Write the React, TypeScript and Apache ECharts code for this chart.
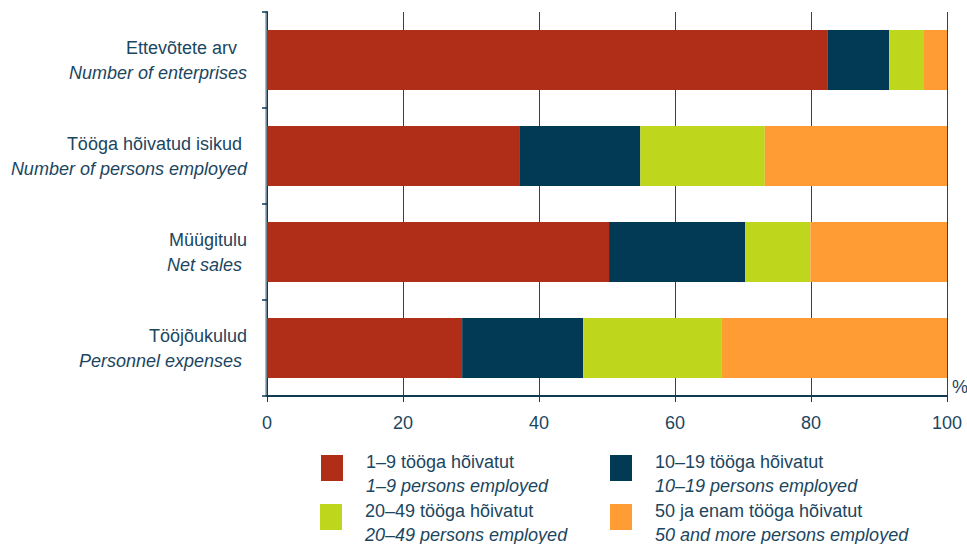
import React, { useEffect, useRef } from "react";
import * as echarts from "echarts";

const categories = [
  ["Ettevõtete arv  ", "Number of enterprises"],
  ["Tööga hõivatud isikud ", "Number of persons employed"],
  ["Müügitulu", "Net sales "],
  ["Tööjõukulud", "Personnel expenses "],
];
const seriesNames = [
  ["1–9 tööga hõivatut", "1–9 persons employed"],
  ["10–19 tööga hõivatut", "10–19 persons employed"],
  ["20–49 tööga hõivatut", "20–49 persons employed"],
  ["50 ja enam tööga hõivatut", "50 and more persons employed"],
];
const s1to9 = [82.4, 37.2, 50.3, 28.7];
const s10to19 = [9.1, 17.7, 20.0, 17.8];
const s20to49 = [5.0, 18.3, 9.6, 20.4];
const s50plus = [3.5, 26.8, 20.1, 33.1];
const colors = ["#B02E17", "#023A55", "#BED71C", "#FF9C33"];
const xTicks = [0, 20, 40, 60, 80, 100];

const TXT = "#1B4660";
const FONT = "'Liberation Sans', Arial, sans-serif";

export default function App() {
  const ref = useRef<HTMLDivElement>(null);
  useEffect(() => {
    if (!ref.current) return;
    const chart = echarts.init(ref.current, null, { renderer: "svg" });
    const catKeys = categories.map((c) => c[0]);
    const values = [s1to9, s10to19, s20to49, s50plus];
    const legendPos = [
      { left: 321, top: 453 },
      { left: 610, top: 453 },
      { left: 320, top: 502 },
      { left: 610, top: 502 },
    ];
    const option: any = {
      animation: false,
      textStyle: { fontFamily: FONT },
      grid: {
        left: 267,
        right: 20,
        top: 12,
        bottom: 148,
        containLabel: false,
        outerBoundsMode: "none",
      },
      xAxis: {
        type: "value",
        min: xTicks[0],
        max: xTicks[xTicks.length - 1],
        interval: 20,
        name: "%",
        nameLocation: "end",
        nameGap: 5,
        nameTextStyle: { color: TXT, fontSize: 18, verticalAlign: "bottom", fontFamily: FONT },
        axisLine: { show: true, lineStyle: { color: "#0F3A52", width: 2 } },
        axisTick: { show: true, length: 6, lineStyle: { color: "#0F3A52", width: 1 } },
        axisLabel: { color: TXT, fontSize: 18, margin: 18, fontFamily: FONT },
        splitLine: { show: true, lineStyle: { color: "#1C4A63", width: 1 } },
      },
      yAxis: [
        {
          type: "category",
          data: catKeys,
          inverse: true,
          offset: 8,
          axisLine: { show: true, lineStyle: { color: "#0F3A52", width: 2 } },
          axisTick: { show: true, length: 5, lineStyle: { color: "#0F3A52", width: 1.5 } },
          axisLabel: {
            margin: 12,
            align: "right",
            formatter: (v: string) => {
              const c = categories.find((cc) => cc[0] === v)!;
              return `{a|${c[0]}}\n{b|${c[1]}}`;
            },
            rich: {
              a: { color: TXT, fontSize: 18, lineHeight: 25, fontFamily: FONT, align: "right" },
              b: { color: TXT, fontSize: 18, lineHeight: 25, fontStyle: "italic", fontFamily: FONT, align: "right" },
            },
          },
          splitLine: { show: false },
        },
        {
          type: "category",
          data: catKeys,
          inverse: true,
          position: "left",
          offset: 1,
          axisLine: { show: true, lineStyle: { color: "#8FA3AF", width: 1.5 } },
          axisTick: { show: false },
          axisLabel: { show: false },
        },
      ],
      legend: seriesNames.map((sn, i) => ({
        data: [sn[0]],
        left: legendPos[i].left,
        top: legendPos[i].top,
        orient: "vertical",
        itemWidth: 22,
        itemHeight: 26,
        icon: "rect",
        selectedMode: false,
        padding: 0,
        formatter: (name: string) => {
          const s = seriesNames.find((x) => x[0] === name)!;
          return `{a|${s[0]}}\n{b|${s[1]}}`;
        },
        textStyle: {
          padding: [12, 0, 0, 18],
          rich: {
            a: { color: TXT, fontSize: 18, lineHeight: 24, fontFamily: FONT },
            b: { color: TXT, fontSize: 18, lineHeight: 24, fontStyle: "italic", fontFamily: FONT },
          },
        },
      })),
      series: seriesNames.map((sn, i) => ({
        name: sn[0],
        type: "bar",
        stack: "total",
        yAxisIndex: 0,
        barWidth: 60,
        data: values[i],
        itemStyle: { color: colors[i] },
        emphasis: { disabled: true },
      })),
    };
    chart.setOption(option);
    return () => chart.dispose();
  }, []);
  return (
    <div
      ref={ref}
      style={{ position: "absolute", left: 0, top: 0, width: 967, height: 544, background: "#fff" }}
    />
  );
}
